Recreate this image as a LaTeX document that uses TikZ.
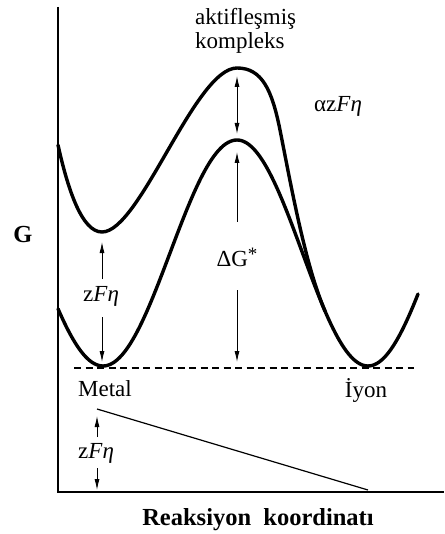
\documentclass[tikz,border=0pt]{standalone}
\usepackage{fontspec}
\setmainfont{Liberation Serif}
\usetikzlibrary{arrows.meta}
\tikzset{
  crv/.style={line width=3.4pt, line cap=round, line join=round},
  axs/.style={line width=1.8pt},
  thn/.style={line width=1.2pt},
  dsh/.style={line width=1.4pt, dash pattern=on 7pt off 4.5pt},
  ar/.style={-{Latex[length=11pt,width=5pt]}, line width=.9pt},
  dar/.style={{Latex[length=11pt,width=5pt]}-{Latex[length=11pt,width=5pt]}, line width=.9pt},
  lbl/.style={font=\fontsize{23}{24}\selectfont, inner sep=0pt, anchor=base},
  lblb/.style={lbl, font=\fontsize{24.5}{26}\selectfont\bfseries},
}

\begin{document}
\begin{tikzpicture}[x=1pt,y=-1pt]
  \useasboundingbox (0,0) rectangle (444,534);
  % axes
  \coordinate (ytop) at (58,7);
  \coordinate (o) at (58,492);
  \coordinate (xend) at (444,492);
  \draw[axs] (ytop) -- (o) -- (xend);

  % energy curves
  \draw[crv] plot[domain=58:237, samples=80] (\x,{253-113*cos((\x-237)/134*180)})
    -- plot[domain=237:418, samples=80] (\x,{253-113*cos((\x-237)/131*180)});
  \draw[crv] (58,145) .. controls (68,190) and (82,232) .. (102,232)
    .. controls (140,232) and (195,68) .. (237,68)
    .. controls (262,68) and (272,90) .. (280,130)
    .. controls (290,180) and (305,265) .. (325,311);

  % base line
  \coordinate (dl) at (74,368);
  \coordinate (dr) at (414,368);
  \draw[dsh] (dl) -- (dr);

  % labels
  \node[lbl, anchor=base west, align=left] (ak) at (195,49) {aktifleşmiş\\kompleks};
  \node[lbl] (azf) at (338,112) {αz\textit{F}\textit{η}};
  \node[lblb] (g) at (23,242) {G};
  \node[lbl] (dG) at (237,266) {ΔG\raisebox{6pt}{\fontsize{19}{19}\selectfont *}};
  \node[lbl] (zf1) at (101,301) {z\textit{F}\textit{η}};
  \node[lbl] (met) at (105,396) {Metal};
  \node[lbl] (iyon) at (366,397) {İyon};
  \node[lbl] (zf2) at (96,458) {z\textit{F}\textit{η}};
  \node[lblb] (rk) at (258,525) {Reaksiyon\ \ koordinatı};

  % arrows
  \coordinate (a1) at (237,76);
  \coordinate (a2) at (237,134);
  \draw[dar] (a1) -- (a2);
  \coordinate (g1) at (237,222);
  \coordinate (g2) at (237,152);
  \coordinate (g3) at (237,290);
  \coordinate (g4) at (237,362);
  \draw[ar] (g1) -- (g2);
  \draw[ar] (g3) -- (g4);
  \coordinate (z1) at (102,279);
  \coordinate (z2) at (102,242);
  \coordinate (z3) at (102,317);
  \coordinate (z4) at (102,362);
  \draw[ar] (z1) -- (z2);
  \draw[ar] (z3) -- (z4);
  \coordinate (w1) at (97,437);
  \coordinate (w2) at (97,416);
  \coordinate (w3) at (97,468);
  \coordinate (w4) at (97,490);
  \draw[ar] (w1) -- (w2);
  \draw[ar] (w3) -- (w4);

  % potential drop
  \coordinate (s1) at (97,409);
  \coordinate (s2) at (368,490);
  \draw[thn] (s1) -- (s2);
\end{tikzpicture}
\end{document}
